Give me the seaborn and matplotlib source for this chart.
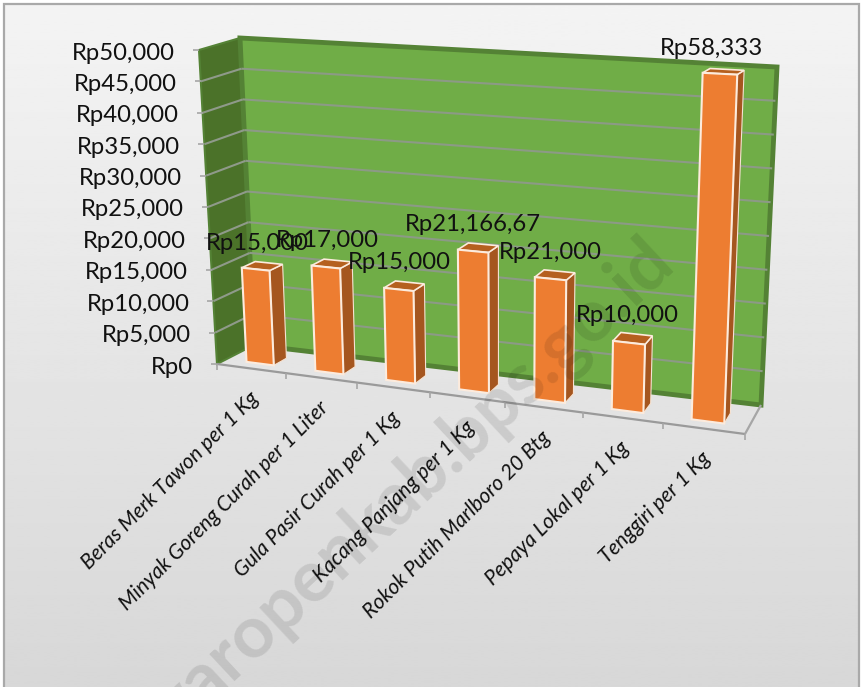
import numpy as np
import seaborn as sns
import matplotlib
matplotlib.use("Agg")
import matplotlib.pyplot as plt
from matplotlib.patches import Polygon, Rectangle
from matplotlib.transforms import IdentityTransform, Transform

# chart values
categories = ["Beras Merk Tawon per 1 Kg", "Minyak Goreng Curah per 1 Liter",
              "Gula Pasir Curah per 1 Kg", "Kacang Panjang per 1 Kg",
              "Rokok Putih Marlboro 20 Btg", "Pepaya Lokal per 1 Kg", "Tenggiri per 1 Kg"]
bar_values = [15000, 16500, 14200, 21200, 18200, 10000, 58333]
bar_labels = ["Rp15,000", "Rp17,000", "Rp15,000", "Rp21,166,67", "Rp21,000", "Rp10,000", "Rp58,333"]
value_ticks = [0, 5000, 10000, 15000, 20000, 25000, 30000, 35000, 40000, 45000, 50000]

W, H = 861, 687
VMAX = 50000
NCAT = len(categories)

# box corners in picture pixels: (left/right, bottom/top, front/back)
FLB, FLT = np.array([217, 364.0]), np.array([199, 50.0])
FRB, FRT = np.array([745, 434.0]), np.array([759, 79.0])
BLB, BLT = np.array([254, 345.0]), np.array([240, 38.0])
BRB, BRT = np.array([761, 405.0]), np.array([777, 67.0])


def project(u, v, d):
    # category position, value, depth -> display pixels
    u, v = np.asarray(u, float), np.minimum(np.asarray(v, float), VMAX)
    t = (u + 0.5) / NCAT
    a = (t / (t + (1 - t) * 1.11))[..., None]
    b = (v / VMAX)[..., None]
    front = (1 - a) * ((1 - b) * FLB + b * FLT) + a * ((1 - b) * FRB + b * FRT)
    back = (1 - a) * ((1 - b) * BLB + b * BLT) + a * ((1 - b) * BRB + b * BRT)
    p = (1 - d) * front + d * back
    return np.stack([p[..., 0], H - p[..., 1]], axis=-1)


class BoxProjection(Transform):
    input_dims = 2
    output_dims = 2

    def __init__(self, plane):
        super().__init__()
        self.plane = plane

    def transform_non_affine(self, values):
        values = np.asarray(values)
        return project(values[:, 0], values[:, 1], self.plane)


sns.set_theme(style="white")
plt.rcParams["font.family"] = ["Lato", "DejaVu Sans"]

fig = plt.figure(figsize=(W / 100, H / 100), dpi=100, facecolor="white")

# gradient panel behind everything
bg = fig.add_axes([0, 0, 1, 1], zorder=0)
bg.imshow(np.linspace(0.955, 0.845, 256)[:, None], cmap="gray", vmin=0, vmax=1,
          aspect="auto", extent=[4, 859, 0, H - 4])
bg.set_xlim(0, W)
bg.set_ylim(0, H)
bg.add_patch(Rectangle((4, -5), 855, H - 4 + 5, fill=False, ec="#A9A9A9", lw=1.6))
bg.set_axis_off()

ax = fig.add_axes([0, 0, 1, 1], zorder=1)
ax.patch.set_alpha(0)
sns.barplot(x=categories, y=bar_values, color="#ED7D31", saturation=1, width=0.4,
            edgecolor="#FCEBDD", linewidth=1.5, ax=ax, zorder=5)
ax.set_xlim(-0.5, NCAT - 0.5)
ax.set_ylim(0, VMAX)
ax.set_axis_off()
px = IdentityTransform()


def poly(points, **kw):
    ax.add_patch(Polygon(np.array(points), closed=True, transform=px, clip_on=False, **kw))


def line(a, b, **kw):
    pts = np.array([a, b])
    ax.plot(pts[:, 0], pts[:, 1], transform=px, clip_on=False, solid_capstyle="butt", **kw)


# walls
left, right = -0.5, NCAT - 0.5
poly([project(left, 0, 0), project(left, VMAX, 0), project(left, VMAX, 1), project(left, 0, 1)],
     fc="#4B7229", ec="#548235", lw=1.5, zorder=1)
poly([project(left, 0, 1), project(left, VMAX, 1), project(right, VMAX, 1), project(right, 0, 1)],
     fc="#70AD47", ec="#548235", lw=3.5, zorder=1)

# gridlines and value axis
for v in value_ticks[1:-1]:
    line(project(left, v, 0), project(left, v, 1), color="#8F9A8A", lw=1.5, zorder=2)
    line(project(left, v, 1), project(right, v, 1), color="#8C9A86", lw=1.5, zorder=2)
for v in value_ticks:
    p = project(left, v, 0)
    line(p, p + [-6, 0], color="#A6A6A6", lw=1.2, zorder=2)
    ax.text(p[0] - 24, p[1] - 3, f"Rp{v:,}", transform=px, ha="right", va="center",
            fontsize=17.2, color="#111111", clip_on=False, zorder=8)

# floor edges and category ticks
line(project(left, 0, 0), project(right, 0, 0), color="#9A9A9A", lw=1.6, zorder=2)
line(project(right, 0, 0), project(right, 0, 1), color="#A6A6A6", lw=1.6, zorder=2)
for i in range(NCAT + 1):
    p = project(left + i, 0, 0)
    line(p, p + [0, -6], color="#A6A6A6", lw=1.2, zorder=2)

# 3d faces of the bars, front faces come from seaborn
D0, D1 = 0.25, 0.61
for i, bar in enumerate(ax.patches[:NCAT]):
    x0, x1, h = bar.get_x(), bar.get_x() + bar.get_width(), bar.get_height()
    bar.set_transform(BoxProjection(D0))
    bar.set_clip_on(False)
    bar.set_zorder(5 + i * 0.1 + 0.05)
    poly([project(x1, 0, D0), project(x1, h, D0), project(x1, h, D1), project(x1, 0, D1)],
         fc="#A5561F", ec="#F6E3D3", lw=0.8, zorder=5 + i * 0.1)
    poly([project(x0, h, D0), project(x1, h, D0), project(x1, h, D1), project(x0, h, D1)],
         fc="#B5601F", ec="#FCEBDD", lw=1.2, zorder=5 + i * 0.1)
    c = project(bar.get_x() + bar.get_width() / 2, h, (D0 + D1) / 2)
    dx = -12 if h > VMAX else -5
    ax.text(c[0] + dx, c[1] + 23, bar_labels[i], transform=px, ha="center", va="center",
            fontsize=17.2, color="#111111", clip_on=False, zorder=8)
    e = project(i, 0, 0)
    ax.text(e[0] - 3, e[1] - 20, categories[i], transform=px, ha="right", va="top",
            rotation=45, rotation_mode="anchor", fontsize=15.1, fontstyle="italic",
            color="#111111", clip_on=False, zorder=8)

# watermark
fig.text(406 / W, 1 - 493 / H, "waropenkab.bps.go.id", rotation=43, ha="center", va="center",
         fontsize=52, fontweight="bold", color="black", alpha=0.1, zorder=10)

fig.savefig("out.png", dpi=100)
